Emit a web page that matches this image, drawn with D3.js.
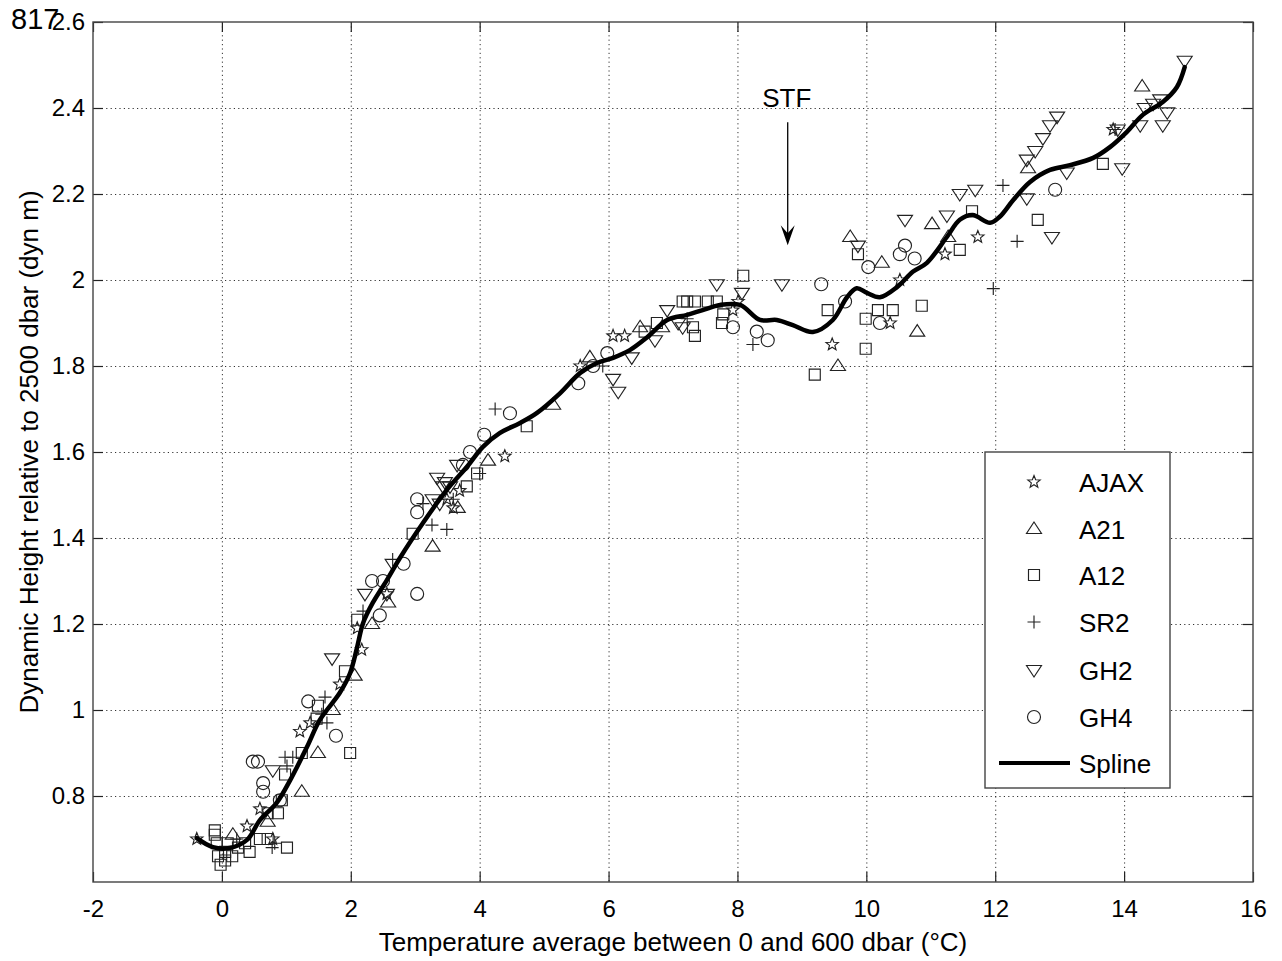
<!DOCTYPE html>
<html><head><meta charset="utf-8">
<script src="https://cdn.jsdelivr.net/npm/d3@7"></script>
<style>
body{margin:0;background:#fff}
svg{display:block}
text{font-family:"Liberation Sans",Arial,Helvetica,sans-serif;fill:#000}
</style>
</head><body>
<svg id="c" width="1282" height="961"></svg>
<script>
// ---------- data ----------
const xTicks = [-2, 0, 2, 4, 6, 8, 10, 12, 14, 16];
const xTickLabels = ["-2", "0", "2", "4", "6", "8", "10", "12", "14", "16"];
const yTicks = [0.8, 1.0, 1.2, 1.4, 1.6, 1.8, 2.0, 2.2, 2.4, 2.6];
const yTickLabels = ["0.8", "1", "1.2", "1.4", "1.6", "1.8", "2", "2.2", "2.4", "2.6"];

const seriesNames = ["AJAX", "A21", "A12", "SR2", "GH2", "GH4"];

const AJAX = [[-0.39,0.70],[0.39,0.73],[0.59,0.77],[0.79,0.70],[1.21,0.95],[1.37,0.97],[1.83,1.06],[2.17,1.14],[2.10,1.19],[2.56,1.27],[3.49,1.49],[3.69,1.51],[3.59,1.47],[4.39,1.59],[5.56,1.80],[6.07,1.87],[6.25,1.87],[7.93,1.93],[8.01,1.95],[9.47,1.85],[10.37,1.90],[10.52,2.00],[11.22,2.06],[11.73,2.10],[13.83,2.35]];

const A21 = [[0.17,0.71],[0.71,0.74],[1.24,0.81],[1.49,0.90],[1.72,1.00],[2.06,1.08],[2.33,1.20],[2.58,1.25],[3.27,1.38],[3.66,1.47],[4.13,1.58],[5.14,1.71],[5.71,1.82],[6.49,1.89],[6.83,1.89],[9.56,1.80],[9.75,2.10],[10.24,2.04],[10.79,1.88],[11.02,2.13],[11.27,2.10],[12.51,2.26],[14.28,2.45]];

const A12 = [[8.09,2.01],[7.54,1.95],[7.68,1.95],[7.15,1.95],[7.22,1.95],[7.34,1.95],[6.56,1.88],[6.75,1.90],[7.31,1.89],[7.34,1.87],[7.76,1.90],[7.78,1.92],[9.40,1.93],[9.99,1.91],[10.18,1.93],[10.41,1.93],[10.86,1.94],[9.99,1.84],[9.20,1.78],[9.87,2.06],[11.45,2.07],[11.64,2.16],[12.66,2.14],[13.67,2.27],[4.73,1.66],[3.96,1.55],[3.80,1.52],[2.96,1.41],[2.10,1.21],[1.91,1.09],[1.49,1.01],[1.47,0.98],[1.24,0.90],[1.99,0.90],[0.98,0.85],[0.93,0.79],[0.71,0.76],[0.87,0.76],[-0.11,0.72],[-0.11,0.71],[-0.08,0.69],[0.59,0.70],[0.71,0.70],[1.01,0.68],[0.05,0.67],[0.16,0.66],[-0.06,0.66],[0.05,0.65],[0.25,0.68],[0.36,0.69],[0.09,0.69],[-0.02,0.64],[0.43,0.67]];

const SR2 = [[4.24,1.70],[4.00,1.55],[3.59,1.49],[3.12,1.48],[3.26,1.43],[3.49,1.42],[2.65,1.35],[2.19,1.23],[1.60,1.03],[1.55,0.99],[1.63,0.97],[1.10,0.89],[1.01,0.87],[0.98,0.89],[0.82,0.69],[0.78,0.68],[0.23,0.70],[5.91,1.80],[7.22,1.91],[8.24,1.85],[12.12,2.22],[12.34,2.09],[11.97,1.98],[13.86,2.35]];

const GH2 = [[3.65,1.57],[3.46,1.53],[3.34,1.54],[3.43,1.52],[3.27,1.49],[3.54,1.52],[3.38,1.48],[2.65,1.34],[2.22,1.27],[2.56,1.27],[1.71,1.12],[0.79,0.86],[6.07,1.77],[6.15,1.74],[6.36,1.82],[6.72,1.86],[6.91,1.93],[7.15,1.89],[7.08,1.90],[7.68,1.99],[8.07,1.97],[8.69,1.99],[9.87,2.08],[10.60,2.14],[11.25,2.15],[11.45,2.20],[11.69,2.21],[12.49,2.19],[12.88,2.10],[13.11,2.25],[13.97,2.26],[12.96,2.38],[12.85,2.36],[12.74,2.33],[12.62,2.30],[12.49,2.28],[14.94,2.51],[14.45,2.41],[14.32,2.40],[14.25,2.36],[14.67,2.39],[14.60,2.36],[14.56,2.42],[13.90,2.35]];

const GH4 = [[4.47,1.69],[4.07,1.64],[3.85,1.60],[3.74,1.57],[3.03,1.49],[3.03,1.46],[2.82,1.34],[3.03,1.27],[2.33,1.30],[2.50,1.30],[2.45,1.22],[1.34,1.02],[1.77,0.94],[0.48,0.88],[0.56,0.88],[0.64,0.83],[0.64,0.81],[0.90,0.79],[5.53,1.76],[5.76,1.80],[5.98,1.83],[7.93,1.89],[8.30,1.88],[8.47,1.86],[9.30,1.99],[9.67,1.95],[10.03,2.03],[10.60,2.08],[10.52,2.06],[10.75,2.05],[10.21,1.90],[12.93,2.21]];

const splineT = [-0.39,-0.14,0.12,0.39,0.59,0.85,1.06,1.32,1.52,1.83,1.99,2.10,2.19,2.34,2.56,2.76,3.12,3.49,3.80,4.05,4.31,4.62,4.89,5.25,5.56,5.82,6.07,6.33,6.60,6.91,7.22,7.46,7.73,8.04,8.35,8.61,8.86,9.17,9.48,9.70,9.85,10.01,10.21,10.48,10.72,10.94,11.25,11.45,11.65,11.92,12.07,12.28,12.54,12.85,13.16,13.52,13.78,14.04,14.29,14.60,14.82,14.94];
const splineH = [0.702,0.681,0.679,0.698,0.744,0.784,0.837,0.914,0.977,1.040,1.086,1.147,1.202,1.249,1.302,1.353,1.435,1.512,1.565,1.612,1.644,1.667,1.691,1.737,1.784,1.807,1.819,1.837,1.867,1.907,1.919,1.930,1.942,1.942,1.907,1.907,1.895,1.879,1.907,1.960,1.981,1.970,1.960,1.984,2.019,2.040,2.100,2.140,2.151,2.133,2.147,2.186,2.228,2.256,2.267,2.284,2.309,2.344,2.384,2.414,2.449,2.495];

const stfLabel = "STF";
const stfT = 8.78, stfTextH = 2.402, stfTopH = 2.367, stfTipH = 2.081;

// ---------- layout ----------
const L = 93, R = 1253, T = 22, B = 882;
const svg = d3.select("#c");
const x = d3.scaleLinear().domain([-2, 16]).range([L, R]);
const y = d3.scaleLinear().domain([0.6, 2.6]).range([B, T]);
const ink = "#222";
const fsTick = 24, fsTitle = 26;

// grid
const grid = svg.append("g").attr("stroke", "#333").attr("stroke-width", 1).attr("stroke-dasharray", "1.2,3.2");
grid.selectAll(".gx").data(xTicks.slice(1, -1)).join("line")
  .attr("x1", d => x(d) + 0.5).attr("x2", d => x(d) + 0.5).attr("y1", T).attr("y2", B);
grid.selectAll(".gy").data(yTicks.slice(0, -1)).join("line")
  .attr("y1", d => Math.round(y(d)) + 0.5).attr("y2", d => Math.round(y(d)) + 0.5).attr("x1", L).attr("x2", R);

// marker shapes
const shapes = {
  AJAX: () => {
    const ro = 6.5, ri = 2.8; let p = "";
    for (let i = 0; i < 10; i++) {
      const r = i % 2 ? ri : ro, a = -Math.PI / 2 + i * Math.PI / 5;
      p += (i ? "L" : "M") + (r * Math.cos(a)).toFixed(2) + "," + (r * Math.sin(a)).toFixed(2);
    }
    return p + "Z";
  },
  A21: () => "M0,-7L7.5,4.5L-7.5,4.5Z",
  A12: () => "M-5.5,-5.5H5.5V5.5H-5.5Z",
  SR2: () => "M-6.5,0H6.5M0,-6.5V6.5",
  GH2: () => "M0,7L7.5,-4.5L-7.5,-4.5Z",
  GH4: () => d3.arc()({innerRadius: 0, outerRadius: 6.5, startAngle: 0, endAngle: 2 * Math.PI})
};
const seriesData = {AJAX, A21, A12, SR2, GH2, GH4};

const marks = svg.append("g").attr("fill", "none").attr("stroke", ink).attr("stroke-width", 1.15);
seriesNames.forEach(name => {
  marks.append("g").selectAll("path").data(seriesData[name]).join("path")
    .attr("d", shapes[name]())
    .attr("transform", d => `translate(${x(d[0])},${y(d[1])})`);
});

// spline
const splinePts = splineT.map((t, i) => [t, splineH[i]]);
svg.append("path").datum(splinePts)
  .attr("fill", "none").attr("stroke", "#000").attr("stroke-width", 4.5).attr("stroke-linejoin", "round").attr("stroke-linecap", "round")
  .attr("d", d3.line().x(d => x(d[0])).y(d => y(d[1])).curve(d3.curveCatmullRom.alpha(0.5)));

// axes
const axB = svg.append("g").attr("transform", `translate(0,${B})`)
  .call(d3.axisBottom(x).tickValues(xTicks).tickFormat((d, i) => xTickLabels[i]).tickSizeInner(-10).tickSizeOuter(0).tickPadding(18));
const axT = svg.append("g").attr("transform", `translate(0,${T})`)
  .call(d3.axisTop(x).tickValues(xTicks).tickFormat("").tickSizeInner(-10).tickSizeOuter(0));
const axL = svg.append("g").attr("transform", `translate(${L},0)`)
  .call(d3.axisLeft(y).tickValues(yTicks).tickFormat((d, i) => yTickLabels[i]).tickSizeInner(-10).tickSizeOuter(0).tickPadding(8));
const axR = svg.append("g").attr("transform", `translate(${R},0)`)
  .call(d3.axisRight(y).tickValues(yTicks).tickFormat("").tickSizeInner(-10).tickSizeOuter(0));
[axB, axT, axL, axR].forEach(a => {
  a.select(".domain").remove();
  a.selectAll(".tick line").attr("stroke", ink).attr("stroke-width", 1.2);
  a.selectAll("text").attr("font-size", fsTick).attr("font-family", "Liberation Sans, Arial, sans-serif").attr("fill", "#000");
});
svg.append("rect").attr("x", L).attr("y", T).attr("width", R - L).attr("height", B - T)
  .attr("fill", "none").attr("stroke", "#444").attr("stroke-width", 1.4);

// axis titles
svg.append("text").attr("x", 673).attr("y", 951).attr("text-anchor", "middle")
  .attr("font-size", fsTitle).text("Temperature average between 0 and 600 dbar (°C)");
svg.append("text").attr("transform", `translate(38,452) rotate(-90)`).attr("text-anchor", "middle")
  .attr("font-size", fsTitle).text("Dynamic Height relative to 2500 dbar (dyn m)");

// page number
svg.append("text").attr("x", 11).attr("y", 29).attr("font-family", "Liberation Serif, Times New Roman, serif")
  .attr("font-size", 29).text("817");

// STF annotation
svg.append("text").attr("x", x(stfT) - 1).attr("y", y(stfTextH)).attr("text-anchor", "middle")
  .attr("font-size", fsTitle).text(stfLabel);
svg.append("line").attr("x1", x(stfT)).attr("x2", x(stfT)).attr("y1", y(stfTopH)).attr("y2", y(stfTipH) - 6)
  .attr("stroke", "#000").attr("stroke-width", 1.3);
const tipX = x(stfT), tipY = y(stfTipH);
svg.append("path").attr("d", `M${tipX},${tipY}L${tipX - 7},${tipY - 20}L${tipX},${tipY - 12}L${tipX + 7},${tipY - 20}Z`).attr("fill", "#000");

// legend
const lg = svg.append("g");
lg.append("rect").attr("x", 985).attr("y", 452).attr("width", 185).attr("height", 336)
  .attr("fill", "#fff").attr("stroke", "#444").attr("stroke-width", 1.4);
const rowY = [482, 529, 575, 622, 670, 717, 763];
seriesNames.forEach((name, i) => {
  lg.append("path").attr("d", shapes[name]()).attr("transform", `translate(1034,${rowY[i]})`)
    .attr("fill", "none").attr("stroke", ink).attr("stroke-width", 1.15);
  lg.append("text").attr("x", 1079).attr("y", rowY[i] + 10).attr("font-size", fsTitle).text(name);
});
lg.append("line").attr("x1", 999).attr("x2", 1070).attr("y1", rowY[6]).attr("y2", rowY[6]).attr("stroke", "#000").attr("stroke-width", 4);
lg.append("text").attr("x", 1079).attr("y", rowY[6] + 10).attr("font-size", fsTitle).text("Spline");
</script>
</body></html>
